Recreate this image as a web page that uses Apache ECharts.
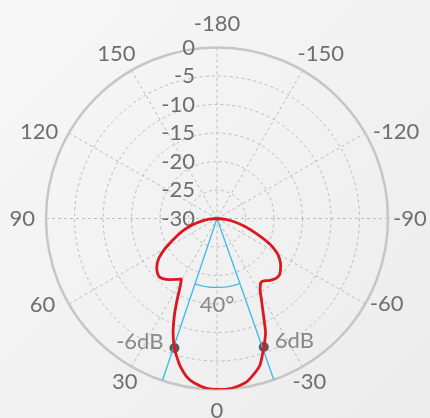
<!DOCTYPE html>
<html lang="en">
<head>
    <meta charset="UTF-8">
    <title>Polar pattern</title>
    <script src="https://cdn.jsdelivr.net/npm/echarts@6/dist/echarts.min.js"></script>
    <style>
        html, body { margin: 0; padding: 0; }
        #chart { width: 430px; height: 418px; }
    </style>
</head>
<body>
<div id="chart"></div>
<script type="text/javascript">
    // pattern, angle in degrees (0 = bottom) and level in dB
    var patternAngle = [90, 85, 80, 75, 70, 65, 60, 55.5, 51, 48, 45, 42, 38, 34, 30.5, 28.8, 26.1, 23.8, 21, 18.2, 16, 14, 11, 8, 3.5, 0,
        -5, -10, -14, -16.5, -20, -23, -25.7, -28.6, -31, -34.5, -37, -40, -44, -47, -50, -54, -57, -60, -64, -69, -74, -79, -84, -90];
    var patternDb = [-30, -28.6, -27.1, -25.4, -23.6, -21.8, -19.5, -17.6, -16.4, -15.9, -15.6, -15.8, -16.4, -17.1, -17.7, -16.7, -14.1, -11.5, -8.5, -6.1, -4.6, -3.3, -1.8, -0.9, -0.15, 0,
        -0.1, -0.8, -2.2, -3.3, -6.0, -8.2, -11.2, -13.7, -15.3, -16.4, -16.3, -15.8, -15.3, -15.2, -15.5, -16.2, -16.9, -17.8, -19.6, -22.6, -25.0, -26.8, -28.5, -30];

    // -6dB points and beam width
    var halfPowerAngle = [18.2, -20];
    var halfPowerDb = [-6.1, -6.0];
    var halfPowerText = ['-6dB', '6dB'];
    var beamEdges = [18.6, -19.4];
    var beamArcDb = -17.9;
    var beamText = '40°';
    var beamTextDb = -14.8;

    var gray = '#6e6e6e';
    // angle label nudges [top, right, bottom, left], label margin is -20
    // (vertical padding only moves the text by half its size)
    var anglePad = {
        '-180': [0, 0, 86, 0], '-150': [0, 0, 66, 5], '-120': [0, 0, 20, 25], '-90': [0, 0, 0, 25],
        '-60': [18, 0, 0, 22], '-30': [64, 0, 0, 0], '0': [80, 0, 0, 0], '30': [64, 4, 0, 0],
        '60': [19, 31, 0, 0], '90': [0, 31, 0, 0], '120': [0, 28, 20, 0], '150': [0, 6, 66, 0]
    };
    var angleRich = {};
    Object.keys(anglePad).forEach(function (k) {
        angleRich['a' + (+k + 180)] = { padding: anglePad[k], lineHeight: 2, color: gray, fontSize: 22, fontFamily: 'Lato' };
    });

    var chart = echarts.init(document.getElementById('chart'));

    var curve = patternAngle.map(function (a, i) { return [patternDb[i], a]; });
    var arc = [];
    for (var a = beamEdges[0]; a >= beamEdges[1]; a -= 1) arc.push([beamArcDb, a]);
    arc.push([beamArcDb, beamEdges[1]]);

    var blue = { color: '#3cb8ec', width: 1.3 };
    var series = [];
    beamEdges.forEach(function (a) {
        series.push({ type: 'line', coordinateSystem: 'polar', symbol: 'none', silent: true,
            lineStyle: blue, data: [[-30, a], [0, a]] });
    });
    series.push({ type: 'line', coordinateSystem: 'polar', symbol: 'none', silent: true,
        lineStyle: blue, data: arc });
    series.push({
        type: 'line', coordinateSystem: 'polar', symbol: 'none', smooth: 0.2,
        lineStyle: { color: '#e0161e', width: 2.8 },
        data: curve
    });
    series.push({
        type: 'scatter', coordinateSystem: 'polar', symbolSize: 10,
        itemStyle: { color: '#333333' },
        data: halfPowerAngle.map(function (a, i) {
            return {
                value: [halfPowerDb[i], a],
                label: { show: true, formatter: halfPowerText[i], position: i === 0 ? 'left' : 'right',
                    distance: 6, offset: [0, -6], color: gray, fontSize: 22, fontFamily: 'Lato' }
            };
        })
    });
    series.push({
        type: 'scatter', coordinateSystem: 'polar', symbolSize: 0,
        data: [{ value: [beamTextDb, 0], label: { show: true, formatter: beamText, position: 'inside',
            color: gray, fontSize: 22, fontFamily: 'Lato' } }]
    });

    chart.setOption({
        backgroundColor: new echarts.graphic.LinearGradient(0, 0, 1, 1, [
            { offset: 0, color: '#f7f7f7' },
            { offset: 1, color: '#ececec' }
        ]),
        textStyle: { fontFamily: 'Lato' },
        animation: false,
        polar: { center: [217, 218.5], radius: 171 },
        angleAxis: {
            type: 'value', min: -180, max: 180, interval: 30, startAngle: 90, clockwise: true,
            axisLine: { lineStyle: { color: '#c6c6c6', width: 2.5 } },
            axisTick: { show: false },
            axisLabel: {
                color: gray, fontSize: 22, margin: -20,
                formatter: function (v) { return '{a' + (v + 180) + '|' + v + '}'; },
                rich: angleRich
            },
            splitLine: { lineStyle: { color: '#bcbcbc', type: [3, 3], width: 1 } }
        },
        radiusAxis: {
            type: 'value', min: -30, max: 0, interval: 5,
            axisLine: { show: false },
            axisTick: { show: false },
            axisLabel: { color: gray, fontSize: 22, margin: 22 },
            splitLine: { lineStyle: { color: '#bcbcbc', type: [3, 3], width: 1 } }
        },
        series: series
    });
</script>
</body>
</html>
